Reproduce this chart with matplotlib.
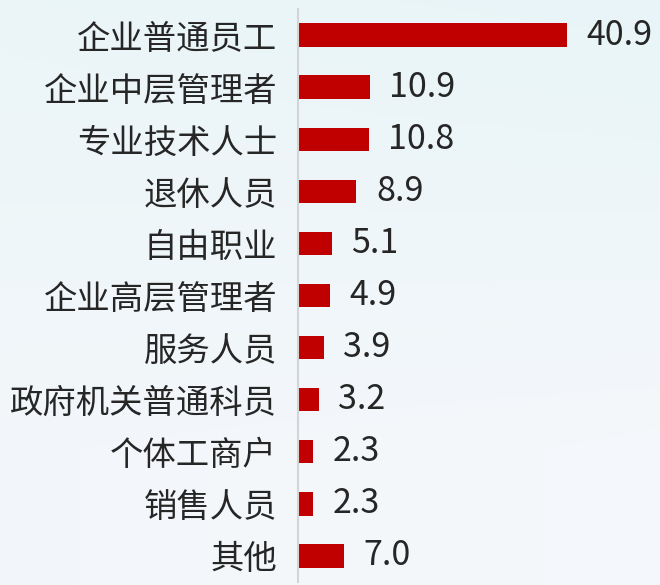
import matplotlib
matplotlib.use("Agg")
import matplotlib.pyplot as plt
import numpy as np

plt.rcParams["font.family"] = ["Noto Sans CJK SC", "DejaVu Sans"]

# --- data (percent) ---
categories = ["企业普通员工", "企业中层管理者", "专业技术人士", "退休人员", "自由职业",
              "企业高层管理者", "服务人员", "政府机关普通科员", "个体工商户", "销售人员", "其他"]
values = [40.9, 10.9, 10.8, 8.9, 5.1, 4.9, 3.9, 3.2, 2.3, 2.3, 7.0]

bar_color = "#c00000"
text_color = "#262626"

fig = plt.figure(figsize=(6.6, 5.85), dpi=100)

# --- soft background ---
bg = fig.add_axes([0, 0, 1, 1], zorder=-10)
yy, xx = np.mgrid[0:1:200j, 0:1:200j]
top = np.array([0.91, 0.96, 0.97])
bottom = np.array([0.96, 0.97, 0.985])
left = np.array([0.94, 0.965, 0.975])
mix = np.clip(yy * 1.3, 0, 1)[..., None]
img = top * (1 - mix) + bottom * mix
img = img * 0.6 + (left * (1 - xx[..., None]) + img * xx[..., None]) * 0.4
bg.imshow(img, extent=[0, 1, 0, 1], aspect="auto", origin="upper")
bg.axis("off")

# --- bars ---
ax = fig.add_axes([298 / 660, 3 / 585, 362 / 660, 573 / 585])
ax.patch.set_alpha(0)
y = np.arange(len(categories))
ax.barh(y, values, height=0.45, color=bar_color)

for yi, v in zip(y, values):
    ax.annotate(f"{v:.1f}", (v, yi), xytext=(14, 0), textcoords="offset points",
                ha="left", va="center", fontsize=24.5, color=text_color)

ax.set_ylim(len(categories) - 0.5, -0.5)
ax.set_xlim(0, 55.1)
ax.set_yticks(y)
ax.set_yticklabels(categories, fontsize=24, color=text_color)
ax.tick_params(axis="y", length=0, pad=15)
ax.set_xticks([])

for side in ["top", "right", "bottom"]:
    ax.spines[side].set_visible(False)
ax.spines["left"].set_color("#d4d4d4")
ax.spines["left"].set_linewidth(1.5)

fig.savefig("out.png", dpi=100)
